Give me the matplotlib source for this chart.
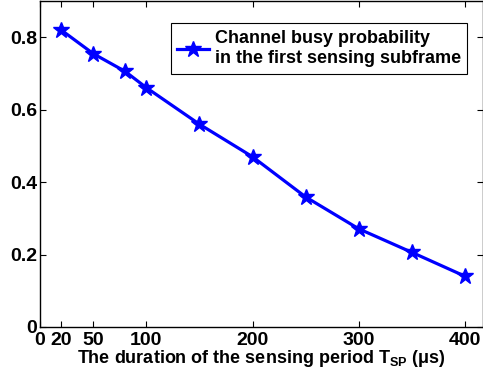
import matplotlib
matplotlib.use("Agg")
import matplotlib.pyplot as plt

# data
tsp = [20, 50, 80, 100, 150, 200, 250, 300, 350, 400]
busy_prob = [0.82, 0.755, 0.706, 0.661, 0.560, 0.470, 0.359, 0.271, 0.206, 0.140]
xtick_vals = [0, 20, 50, 100, 200, 300, 400]
ytick_vals = [0, 0.2, 0.4, 0.6, 0.8]
ytick_labels = ['0', '0.2', '0.4', '0.6', '0.8']

plt.rcParams['font.family'] = ['Liberation Sans', 'DejaVu Sans']
plt.rcParams['font.weight'] = 'bold'
plt.rcParams['mathtext.fontset'] = 'custom'
plt.rcParams['mathtext.rm'] = 'Liberation Sans:bold'
plt.rcParams['mathtext.bf'] = 'Liberation Sans:bold'
plt.rcParams['mathtext.default'] = 'bf'

fig = plt.figure(figsize=(4.83, 3.81), dpi=100)
ax = fig.add_axes([0.083, 0.142, 0.917, 0.855])

ax.plot(tsp, busy_prob, color='#0000ff', linewidth=2.3, marker='*', markersize=12,
        label='Channel busy probability\nin the first sensing subframe')

ax.set_xlim(0, 417)
ax.set_ylim(0, 0.9)
ax.set_xticks(xtick_vals)
ax.set_yticks(ytick_vals)
ax.set_yticklabels(ytick_labels)
ax.tick_params(direction='in', top=True, right=True, length=4, width=0.8,
               labelsize=14)
ax.tick_params(axis='x', pad=4)
ax.tick_params(axis='y', pad=2)
for lab in ax.get_xticklabels() + ax.get_yticklabels():
    lab.set_fontweight('bold')
for sp in ax.spines.values():
    sp.set_linewidth(1.0)

ax.set_xlabel(r'The duration of the sensing period T$_{SP}$ ($\mu$s)',
              fontsize=13, fontweight='bold', labelpad=-1)

leg = ax.legend(loc='upper right', bbox_to_anchor=(0.985, 0.96),
                prop={'weight': 'bold', 'size': 13}, fancybox=False,
                handlelength=1.8, handletextpad=0.3, borderpad=0.35,
                labelspacing=0.15, framealpha=1)
leg.get_frame().set_edgecolor('black')
leg.get_frame().set_linewidth(0.8)
for t in leg.get_texts():
    t.set_linespacing(1.3)

fig.savefig('out.png', dpi=100)
